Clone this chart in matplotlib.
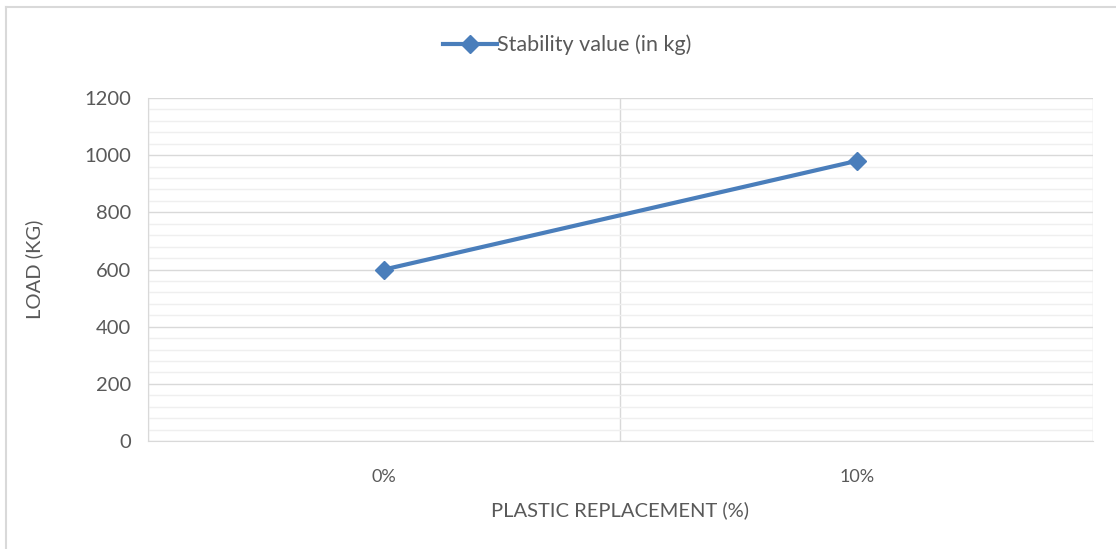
import numpy as np
import matplotlib
matplotlib.use("Agg")
import matplotlib.pyplot as plt
from matplotlib.ticker import MultipleLocator
from matplotlib.lines import Line2D

# Data
categories = ["0%", "10%"]
stability = [600, 980]

plt.rcParams['font.family'] = ['Lato', 'DejaVu Sans']
txt = '#595959'

fig = plt.figure(figsize=(11.16, 5.49), dpi=100)
ax = fig.add_axes([0.1326, 0.1967, 0.9794 - 0.1326, 0.8215 - 0.1967])

x = np.arange(len(categories))
ax.plot(x, stability, color='#4A7EBB', lw=3, marker='D', ms=9,
        label='Stability value (in kg)', zorder=3)

ax.set_xlim(-0.5, len(categories) - 0.5)
ax.set_ylim(0, 1200)
ax.yaxis.set_major_locator(MultipleLocator(200))
ax.yaxis.set_minor_locator(MultipleLocator(40))
ax.grid(axis='y', which='major', color='#d9d9d9', lw=1)
ax.grid(axis='y', which='minor', color='#efefef', lw=1)
ax.set_axisbelow(True)

# vertical lines between categories
ax.set_xticks(x)
ax.set_xticklabels(categories)
ax.set_xticks(np.arange(-0.5, len(categories)), minor=True)
ax.grid(axis='x', which='minor', color='#d9d9d9', lw=1)
ax.tick_params(axis='x', which='both', length=0, pad=20, labelsize=13, colors=txt)
ax.tick_params(axis='y', which='both', length=0, pad=12, labelsize=14.5, colors=txt)

for s in ['top', 'right']:
    ax.spines[s].set_visible(False)
ax.spines['left'].set_color('#d9d9d9')
ax.spines['bottom'].set_color('#d9d9d9')

ax.set_xlabel('PLASTIC REPLACEMENT (%)', fontsize=14.5, color=txt, labelpad=12)
ax.set_ylabel('LOAD (KG)', fontsize=14.5, color=txt, labelpad=30)

fig.legend(*ax.get_legend_handles_labels(), loc='center',
           bbox_to_anchor=(567 / 1116, 1 - 45 / 549), frameon=False,
           fontsize=15.5, labelcolor=txt, handlelength=2.5, handletextpad=0.0)

# chart border
fig.add_artist(Line2D([6 / 1116, 6 / 1116], [0, 1 - 7 / 549], color='#d9d9d9', lw=1.5))
fig.add_artist(Line2D([6 / 1116, 1], [1 - 7 / 549, 1 - 7 / 549], color='#d9d9d9', lw=1.5))

fig.savefig('out.png', dpi=100, facecolor='white')
